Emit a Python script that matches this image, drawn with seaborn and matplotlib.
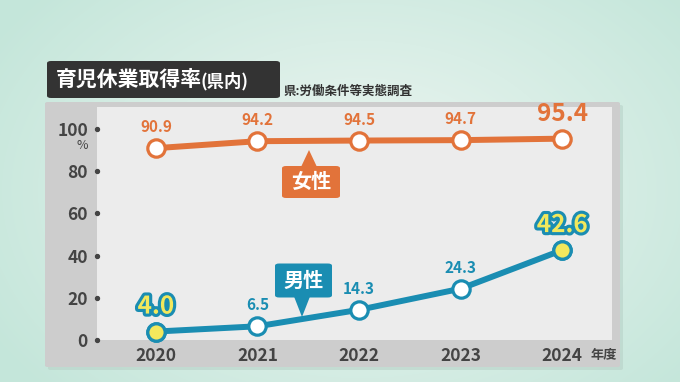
"""
育児休業取得率(県内) 折れ線グラフ
"""
import numpy as np
import pandas as pd
import matplotlib.pyplot as plt
import matplotlib.patheffects as pe
from matplotlib.patches import FancyBboxPatch, Polygon
import seaborn as sns

# データ
years = [2020, 2021, 2022, 2023, 2024]
female = [90.9, 94.2, 94.5, 94.7, 95.4]
male = [4.0, 6.5, 14.3, 24.3, 42.6]
male_highlight = [2020, 2024]      # 黄色で強調する年
big_female = [2024]                # 大きく表示するラベル
yticks = [0, 20, 40, 60, 80, 100]

ORANGE = '#e2733a'
BLUE = '#1a8db2'
YELLOW = '#f2e85c'
DARK = '#444444'

W, H = 680, 382

sns.set_theme(style='white')
plt.rcParams['font.family'] = ['Noto Sans CJK JP', 'DejaVu Sans']


def fx(x):
    return x / W


def fy(y):
    # 上端基準のピクセル -> figure座標
    return (H - y) / H


fig = plt.figure(figsize=(W / 100, H / 100), dpi=100)

# 背景のグラデーション
bg = fig.add_axes([0, 0, 1, 1], zorder=-10)
yy, xx = np.mgrid[0:H, 0:W]
r = np.clip(np.sqrt(((xx - 360) / 430) ** 2 + ((yy - 190) / 300) ** 2), 0, 1)
c_in = np.array([238, 246, 242]) / 255
c_out = np.array([196, 230, 218]) / 255
img = c_in[None, None, :] * (1 - r[..., None]) + c_out[None, None, :] * r[..., None]
bg.imshow(img, aspect='auto', extent=(0, 1, 0, 1))
bg.axis('off')

# 外側のグレーパネル
shadow = FancyBboxPatch((fx(48), fy(370)), fx(575), 265 / H,
                        boxstyle='round,pad=0,rounding_size=0.004',
                        transform=fig.transFigure, facecolor='#b8d2c8',
                        edgecolor='none', alpha=0.6, zorder=-2)
fig.add_artist(shadow)
panel = FancyBboxPatch((fx(45), fy(367)), fx(575), 265 / H,
                       boxstyle='round,pad=0,rounding_size=0.004',
                       transform=fig.transFigure, facecolor='#cdcdcd',
                       edgecolor='none', zorder=-1)
fig.add_artist(panel)

# タイトルボックス
tbox = FancyBboxPatch((fx(47), fy(98)), fx(233), 37 / H,
                      boxstyle='round,pad=0,rounding_size=0.006',
                      transform=fig.transFigure, facecolor='#333333',
                      edgecolor='none', zorder=1)
fig.add_artist(tbox)
t1 = fig.text(fx(56), fy(79), '育児休業取得率', color='white', fontsize=15,
              fontweight='bold', va='center', ha='left')
fig.canvas.draw()
bb = t1.get_window_extent()
fig.text(bb.x1 / W - fx(2), fy(81), '(県内)', color='white', fontsize=12.5,
         fontweight='bold', va='center', ha='left')
fig.text(fx(284), fy(91), '県:労働条件等実態調査', color='#333333', fontsize=9,
         fontweight='bold', va='center', ha='left')

# メインの軸
ax = fig.add_axes([fx(97), fy(340), fx(515), 233 / H])
ax.set_facecolor('#ececec')

df = pd.DataFrame({'year': years * 2,
                   'value': female + male,
                   'series': ['女性'] * len(years) + ['男性'] * len(years)})

for name, color in [('女性', ORANGE), ('男性', BLUE)]:
    sns.lineplot(data=df[df['series'] == name], x='year', y='value',
                 color=color, linewidth=4.3, marker='o', markersize=12.5,
                 markerfacecolor='white', markeredgecolor=color,
                 markeredgewidth=2.3, clip_on=False, ax=ax, zorder=3)

# 強調マーカー(男性 2020, 2024)
hl = df[(df['series'] == '男性') & (df['year'].isin(male_highlight))]
ax.scatter(hl['year'], hl['value'], s=12.5 ** 2, facecolor=YELLOW,
           edgecolor=BLUE, linewidth=2.3, zorder=4, clip_on=False)

ax.set_xlim(2019.42, 2024.49)
ax.set_ylim(0, 110.4)
ax.set_xticks(years)
ax.set_xticklabels([str(y) for y in years], fontsize=12.5, fontweight='bold',
                   color=DARK)
ax.set_yticks(yticks)
ax.set_yticklabels([str(v) for v in yticks], fontsize=12.5, fontweight='bold',
                   color=DARK)
ax.tick_params(axis='x', length=0, pad=5)
ax.tick_params(axis='y', length=0, pad=6.5)
ax.set_xlabel('')
ax.set_ylabel('')
for s in ax.spines.values():
    s.set_visible(False)
ax.grid(False)

# 目盛りの点
ax.scatter([ax.get_xlim()[0]] * len(yticks), yticks, s=8, color=DARK,
           clip_on=False, zorder=5)

fig.text(fx(82), fy(145), '%', fontsize=9, color=DARK, ha='center', va='center')
fig.text(fx(591), fy(355), '年度', fontsize=9.5, color=DARK, ha='left',
         va='center', fontweight='bold')

# 数値ラベル
stroke = [pe.withStroke(linewidth=4.5, foreground=BLUE)]
for x, v in zip(years, female):
    if x in big_female:
        ax.annotate(f'{v:.1f}', (x, v), xytext=(0, 25), textcoords='offset pixels',
                    ha='center', va='center', color=ORANGE, fontsize=17.5,
                    fontweight='bold')
    else:
        ax.annotate(f'{v:.1f}', (x, v), xytext=(0, 21), textcoords='offset pixels',
                    ha='center', va='center', color=ORANGE, fontsize=11,
                    fontweight='bold')
for x, v in zip(years, male):
    if x in male_highlight:
        ax.annotate(f'{v:.1f}', (x, v), xytext=(0, 25), textcoords='offset pixels',
                    ha='center', va='center', color=YELLOW, fontsize=17.5,
                    fontweight='bold', path_effects=stroke)
    else:
        ax.annotate(f'{v:.1f}', (x, v), xytext=(0, 21), textcoords='offset pixels',
                    ha='center', va='center', color=BLUE, fontsize=11,
                    fontweight='bold')


# 吹き出し
def callout(text, cx, cy, w, h, tip, color):
    box = FancyBboxPatch((fx(cx - w / 2), fy(cy + h / 2)), fx(w), h / H,
                         boxstyle='round,pad=0,rounding_size=0.006',
                         transform=fig.transFigure, facecolor=color,
                         edgecolor='none', zorder=6)
    fig.add_artist(box)
    tx, ty = tip
    base_y = cy - h / 2 + 1 if ty < cy else cy + h / 2 - 1
    tri = Polygon([(fx(tx - 8), fy(base_y)), (fx(tx + 8), fy(base_y)),
                   (fx(tx), fy(ty))], closed=True, transform=fig.transFigure,
                  facecolor=color, edgecolor='none', zorder=6)
    fig.add_artist(tri)
    fig.text(fx(cx), fy(cy), text, color='white', fontsize=14.5,
             fontweight='bold', ha='center', va='center', zorder=7)


callout('女性', 311, 182, 58, 32, (309, 150), ORANGE)
callout('男性', 303.5, 280.5, 57, 34, (302, 317), BLUE)

fig.savefig('out.png', dpi=100)
